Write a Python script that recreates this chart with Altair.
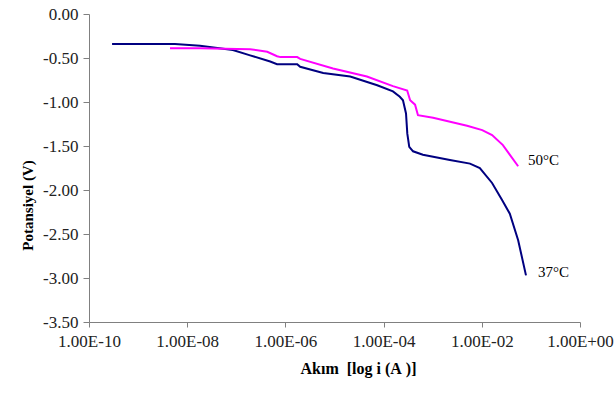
import altair as alt
import pandas as pd

# 37°C series (navy)
i37 = [2.95e-10, 5.62e-9, 1.82e-8, 8.51e-8, 1.91e-7, 4.90e-7, 6.76e-7, 1.74e-6, 2.00e-6,
       5.89e-6, 2.09e-5, 7.41e-5, 1.55e-4, 2.14e-4, 2.48e-4, 2.86e-4, 3.04e-4, 3.33e-4,
       3.98e-4, 6.31e-4, 2.24e-3, 5.75e-3, 9.12e-3, 1.62e-2, 2.57e-2, 3.72e-2, 5.50e-2, 7.94e-2]
v37 = [-0.34, -0.34, -0.36, -0.41, -0.47, -0.54, -0.57, -0.57, -0.60,
       -0.67, -0.71, -0.81, -0.88, -0.94, -0.98, -1.13, -1.36, -1.51,
       -1.56, -1.60, -1.66, -1.70, -1.75, -1.92, -2.11, -2.27, -2.57, -2.97]

# 50°C series (magenta)
i50 = [4.47e-9, 1.82e-8, 1.91e-7, 4.27e-7, 6.76e-7, 7.94e-7, 1.74e-6, 2.00e-6, 9.33e-6,
       4.57e-5, 1.55e-4, 3.02e-4, 3.47e-4, 4.37e-4, 5.01e-4, 1.02e-3, 5.01e-3, 1.02e-2,
       1.62e-2, 2.69e-2, 5.50e-2]
v50 = [-0.39, -0.39, -0.40, -0.43, -0.48, -0.49, -0.49, -0.51, -0.62,
       -0.71, -0.82, -0.87, -0.98, -1.03, -1.15, -1.18, -1.27, -1.32,
       -1.375, -1.49, -1.73]

label_text = ["50°C", "37°C"]
label_x = [0.087, 0.14]
label_y = [-1.66, -2.93]

x_ticks = [1e-10, 1e-8, 1e-6, 1e-4, 1e-2, 1e0]
y_ticks = [0.0, -0.5, -1.0, -1.5, -2.0, -2.5, -3.0, -3.5]

df = pd.concat([
    pd.DataFrame({"i": i37, "v": v37, "s": "37", "o": range(len(i37))}),
    pd.DataFrame({"i": i50, "v": v50, "s": "50", "o": range(len(i50))}),
])
lab = pd.DataFrame({"t": label_text, "x": label_x, "y": label_y})

FONT = "Liberation Serif"

xscale = alt.Scale(type="log", domain=[1e-10, 1], nice=False)
yscale = alt.Scale(domain=[-3.5, 0], nice=False, zero=False)

xaxis = alt.Axis(
    values=x_ticks,
    labelExpr="'1.00E' + (round(log(datum.value)/LN10) < 0 ? '-' : '+') + (abs(round(log(datum.value)/LN10)) < 10 ? '0' : '') + abs(round(log(datum.value)/LN10))",
    title="Akım\u00a0\u00a0[log i (A\u00a0)]",
    grid=False, domainColor="#808080", tickColor="#808080", tickSize=5,
    labelFont=FONT, labelFontSize=17, labelColor="#222222", labelPadding=6,
    titleFont=FONT, titleFontSize=16, titleFontWeight="bold", titleColor="#000000",
    titleX=269, titleY=46, titleAlign="center", titleBaseline="middle",
    labelFlush=False, labelOverlap=False,
)
yaxis = alt.Axis(
    values=y_ticks,
    labelExpr="(datum.value < 0 ? '-' : '') + format(abs(datum.value), '.2f')",
    title="Potansiyel (V)",
    grid=False, domainColor="#808080", tickColor="#808080", tickSize=6,
    labelFont=FONT, labelFontSize=17, labelColor="#222222", labelPadding=5,
    titleFont=FONT, titleFontSize=15, titleFontWeight="bold", titleColor="#000000",
    titleX=-62, titleY=191, titleAngle=-90, titleAlign="center", titleBaseline="middle",
    labelFlush=False, labelOverlap=False,
)

lines = alt.Chart(df).mark_line(strokeWidth=2, clip=True).encode(
    x=alt.X("i:Q", scale=xscale, axis=xaxis),
    y=alt.Y("v:Q", scale=yscale, axis=yaxis),
    color=alt.Color("s:N", scale=alt.Scale(domain=["37", "50"], range=["#000080", "#FF00FF"]), legend=None),
    order="o:Q",
)

texts = alt.Chart(lab).mark_text(font=FONT, fontSize=15, align="left", baseline="middle", color="#000000").encode(
    x=alt.X("x:Q", scale=xscale),
    y=alt.Y("y:Q", scale=yscale),
    text="t:N",
)

chart = alt.layer(lines, texts).properties(
    width=491, height=308,
    autosize=alt.AutoSizeParams(type="none"),
    padding={"left": 89, "top": 14, "right": 35, "bottom": 87},
).configure_view(stroke=None)

chart.save("out.html", embed_options={"renderer": "svg", "actions": False})
